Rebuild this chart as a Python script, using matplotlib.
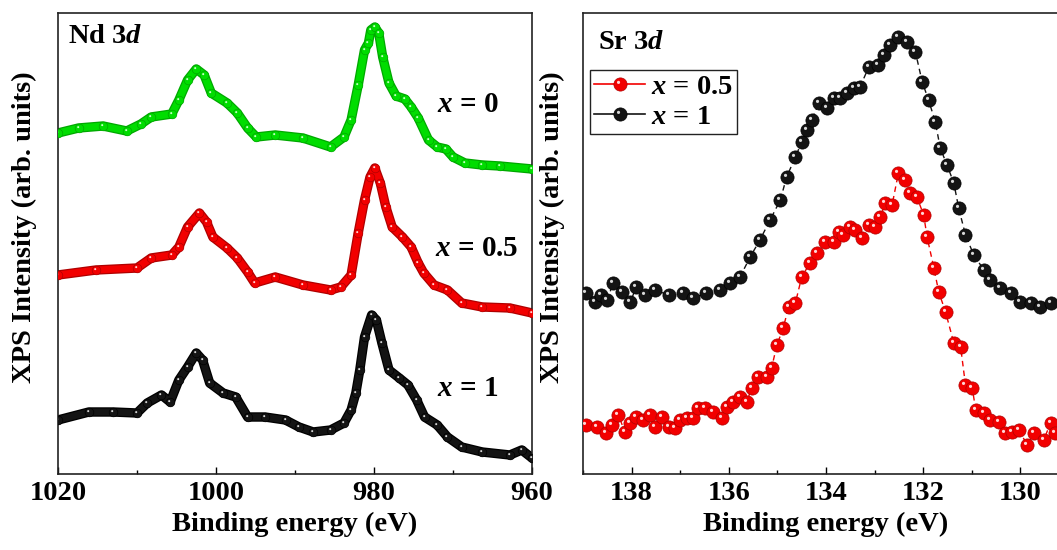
"""Nd 3d and Sr 3d XPS spectra, side by side (stacked by composition x)."""

import numpy as np
import matplotlib

matplotlib.use("Agg")
import matplotlib.pyplot as plt
from matplotlib.path import Path
from matplotlib.legend_handler import HandlerTuple
from matplotlib.ticker import MultipleLocator

plt.rcParams.update({
    "font.family": "Liberation Serif",
    "font.weight": "bold",
    "axes.labelweight": "bold",
    "mathtext.fontset": "custom",
    "mathtext.it": "Liberation Serif:italic:bold",
    "mathtext.rm": "Liberation Serif:bold",
    "mathtext.bf": "Liberation Serif:bold",
})

# ---- Nd 3d (left panel), intensities in arb. units, already stacked ----
ND_E_X0 = [1020, 1017.4, 1014.3, 1011.3, 1009.5, 1008.2, 1005.6, 1004.7, 1003.6,
           1002.5, 1001.5, 1000.6, 998.6, 997.3, 996, 994.9, 992.5, 989, 985.5,
           983.8, 982.9, 982, 981.2, 980.7, 980.4, 979.9, 979.4, 978.9, 978.1,
           977.2, 976.1, 975.3, 974.4, 973.1, 972, 970.9, 970, 968.5, 966.3,
           964.1, 960]
ND_I_X0 = [341, 346, 348, 343, 350, 357, 360, 374, 394, 405, 399, 381, 371, 361,
           346, 337, 339, 336, 327, 337, 354, 389, 424, 431, 444, 447, 441, 417,
           391, 378, 375, 367, 356, 334, 327, 325, 317, 311, 309, 308, 305]

ND_E_X05 = [1020, 1015.2, 1010, 1008.2, 1005.6, 1004.7, 1003.6, 1002.1, 1001.2,
            1000.4, 998.6, 997.3, 996, 995.1, 992.5, 989, 985.5, 984.2, 982.9,
            982, 981.2, 980.5, 979.9, 979.2, 978.5, 977.7, 976.4, 975.3, 974.4,
            973.7, 972.4, 970.7, 968.9, 966.3, 962.8, 960]
ND_I_X05 = [199, 204, 206, 216, 219, 227, 247, 261, 252, 237, 226, 216, 202, 191,
            197, 189, 184, 187, 199, 241, 274, 297, 306, 291, 267, 247, 237, 227,
            211, 201, 189, 184, 171, 167, 166, 161]

ND_E_X1 = [1020, 1016.1, 1013, 1010, 1008.7, 1006.9, 1005.8, 1004.7, 1003.6,
           1002.5, 1001.7, 1000.8, 999.1, 997.5, 996, 993.8, 991.2, 989.5, 987.7,
           985.5, 983.8, 982.9, 982.3, 981.8, 981.2, 980.3, 979.7, 979, 978.1,
           976.8, 975.7, 974.6, 973.6, 972, 970.7, 968.9, 966.3, 962.8, 961.3, 960]
ND_I_X1 = [54, 62, 62, 61, 71, 79, 72, 94, 107, 121, 114, 91, 81, 77, 57, 57, 54,
           47, 42, 44, 51, 64, 81, 104, 137, 159, 154, 131, 104, 96, 89, 74, 57,
           49, 37, 27, 22, 19, 24, 16]

# ---- Sr 3d (right panel) ----
SR_E_X05 = [138.93, 138.72, 138.52, 138.41, 138.27, 138.14, 138.03, 137.9, 137.76,
            137.62, 137.52, 137.38, 137.24, 137.11, 137.0, 136.87, 136.73, 136.63,
            136.49, 136.32, 136.15, 136.04, 135.91, 135.77, 135.63, 135.53, 135.39,
            135.22, 135.12, 135.01, 134.88, 134.77, 134.63, 134.5, 134.33, 134.19,
            134.02, 133.84, 133.74, 133.64, 133.5, 133.4, 133.26, 133.12, 132.99,
            132.88, 132.78, 132.64, 132.51, 132.37, 132.27, 132.13, 131.99, 131.92,
            131.78, 131.68, 131.54, 131.37, 131.23, 131.13, 130.99, 130.92, 130.75,
            130.62, 130.45, 130.31, 130.17, 130.03, 129.86, 129.73, 129.52, 129.38,
            129.28]
SR_I_X05 = [49, 47, 41, 49, 59, 42, 51, 57, 54, 59, 47, 57, 47, 46, 54, 56, 56, 66,
            66, 62, 56, 67, 72, 77, 72, 86, 97, 97, 106, 129, 146, 167, 171, 197,
            211, 221, 232, 232, 242, 239, 247, 244, 236, 249, 247, 257, 271, 269,
            301, 294, 281, 277, 259, 237, 206, 182, 162, 131, 127, 89, 86, 64, 61,
            54, 52, 41, 42, 44, 29, 41, 34, 51, 41]

SR_E_X1 = [138.93, 138.76, 138.62, 138.5, 138.38, 138.2, 138.03, 137.9, 137.73,
           137.52, 137.24, 136.94, 136.73, 136.46, 136.18, 135.97, 135.77, 135.56,
           135.36, 135.15, 134.94, 134.81, 134.63, 134.5, 134.39, 134.29, 134.15,
           133.98, 133.84, 133.71, 133.57, 133.43, 133.3, 133.12, 132.92, 132.81,
           132.68, 132.51, 132.33, 132.16, 132.02, 131.89, 131.75, 131.65, 131.51,
           131.37, 131.27, 131.13, 130.96, 130.75, 130.62, 130.41, 130.2, 130.0,
           129.79, 129.59, 129.38]
SR_I_X1 = [181, 172, 179, 174, 191, 182, 172, 187, 179, 184, 179, 181, 176, 181,
           184, 191, 197, 217, 234, 254, 274, 297, 317, 332, 344, 354, 371, 366,
           376, 376, 381, 386, 387, 407, 409, 419, 429, 437, 432, 422, 392, 374,
           352, 326, 309, 291, 266, 239, 219, 204, 194, 186, 181, 172, 171, 167, 171]

ND_LABELS = [(968.1, 370, r"$x$ = 0"), (967.0, 226, r"$x$ = 0.5"),
             (968.2, 86, r"$x$ = 1")]

GREEN = ("#00dd00", "#00a800", "#c8ffc8")
RED = ("#f20000", "#b00000", "#ffd6d6")
BLACK = ("#141414", "#000000", "#d8d8d8")

FS = 20.5
W, H = 1057, 550


def _shine_marker():
    """Small offset disc used as a specular highlight on top of an 'o' marker."""
    c = Path.circle(center=(-0.3, 0.32), radius=0.24)
    verts = np.vstack([c.vertices, [[1.0, 1.0]]])
    codes = np.append(c.codes, Path.MOVETO)
    return Path(verts, codes)


SHINE = _shine_marker()


def _balls(ax, e, i, colors, ms, line=None, band=False):
    face, edge, shine = colors
    if band:
        # thick outlined band standing in for the densely overlapping symbols
        ax.plot(e, i, color=edge, lw=ms + 0.6, zorder=2,
                solid_capstyle="round", solid_joinstyle="round")
        ax.plot(e, i, color=face, lw=ms - 1.2, zorder=2,
                solid_capstyle="round", solid_joinstyle="round")
    if line is not None:
        ax.plot(e, i, color=face, zorder=2, **line)
    ax.plot(e, i, ls="none", marker="o", ms=ms, mfc=face, mec=edge, mew=0.5,
            zorder=3)
    ax.plot(e, i, ls="none", marker=SHINE, ms=ms, mfc=shine, mec="none",
            zorder=4)


def _style(ax, major, minor):
    for s in ax.spines.values():
        s.set_linewidth(1.2)
        s.set_color("#222222")
    ax.tick_params(axis="x", which="both", direction="in", top=False,
                   labelsize=FS, pad=5, width=1.0)
    ax.tick_params(axis="x", which="major", length=5)
    ax.tick_params(axis="x", which="minor", length=3)
    ax.tick_params(axis="y", left=False, labelleft=False)
    ax.xaxis.set_major_locator(MultipleLocator(major))
    ax.xaxis.set_minor_locator(MultipleLocator(minor))
    ax.set_ylim(0, 461)
    ax.set_xlabel("Binding energy (eV)", fontsize=FS, fontweight="bold",
                  labelpad=4)
    ax.set_ylabel("XPS Intensity (arb. units)", fontsize=FS, fontweight="bold")


def main():
    fig = plt.figure(figsize=(W / 100, H / 100), dpi=100)
    ax1 = fig.add_axes([58 / W, 76 / H, 474 / W, 461 / H])
    ax2 = fig.add_axes([583 / W, 76 / H, 486 / W, 461 / H])

    # left: Nd 3d, dense points drawn as a chain of small balls
    _balls(ax1, ND_E_X0, ND_I_X0, GREEN, 6.2, band=True)
    _balls(ax1, ND_E_X05, ND_I_X05, RED, 6.2, band=True)
    _balls(ax1, ND_E_X1, ND_I_X1, BLACK, 6.2, band=True)
    ax1.set_xlim(1020, 960)
    _style(ax1, 20, 10)
    ax1.yaxis.set_label_coords(-0.044, 0.535)
    for e, i, s in ND_LABELS:
        ax1.text(e, i, s, fontsize=FS + 0.5, ha="center", va="center")
    ax1.text(0.021, 0.948, r"Nd 3$d$", transform=ax1.transAxes,
             fontsize=FS, ha="left", va="center")

    # right: Sr 3d, larger balls joined by a thin dashed line
    dash = dict(lw=1.0, ls=(0, (4, 3)))
    _balls(ax2, SR_E_X05, SR_I_X05, RED, 9.5, dash)
    _balls(ax2, SR_E_X1, SR_I_X1, BLACK, 9.5, dash)
    ax2.set_xlim(139, 129)
    _style(ax2, 2, 1)
    ax2.yaxis.set_label_coords(-0.037, 0.535)
    ax2.text(0.03, 0.937, r"Sr 3$d$", transform=ax2.transAxes,
             fontsize=FS, ha="left", va="center")

    handles = []
    for face, edge, shine in (RED, BLACK):
        ball = plt.Line2D([], [], color=face, lw=1.2, marker="o", ms=9.5,
                          mfc=face, mec=edge, mew=0.5)
        hi = plt.Line2D([], [], ls="none", marker=SHINE, ms=9.5, mfc=shine,
                        mec="none")
        handles.append((ball, hi))
    leg = ax2.legend(handles, [r"$x$ = 0.5", r"$x$ = 1"],
                     handler_map={tuple: HandlerTuple(ndivide=1)},
                     loc="upper left", bbox_to_anchor=(0.014, 0.877),
                     fontsize=FS, frameon=True, fancybox=False, framealpha=1,
                     edgecolor="#222222", handlelength=1.8, handletextpad=0.2,
                     labelspacing=0.15, borderpad=0.15, borderaxespad=0)
    leg.get_frame().set_linewidth(1.0)

    fig.savefig("out.png", dpi=100)
    plt.close(fig)


if __name__ == "__main__":
    main()
